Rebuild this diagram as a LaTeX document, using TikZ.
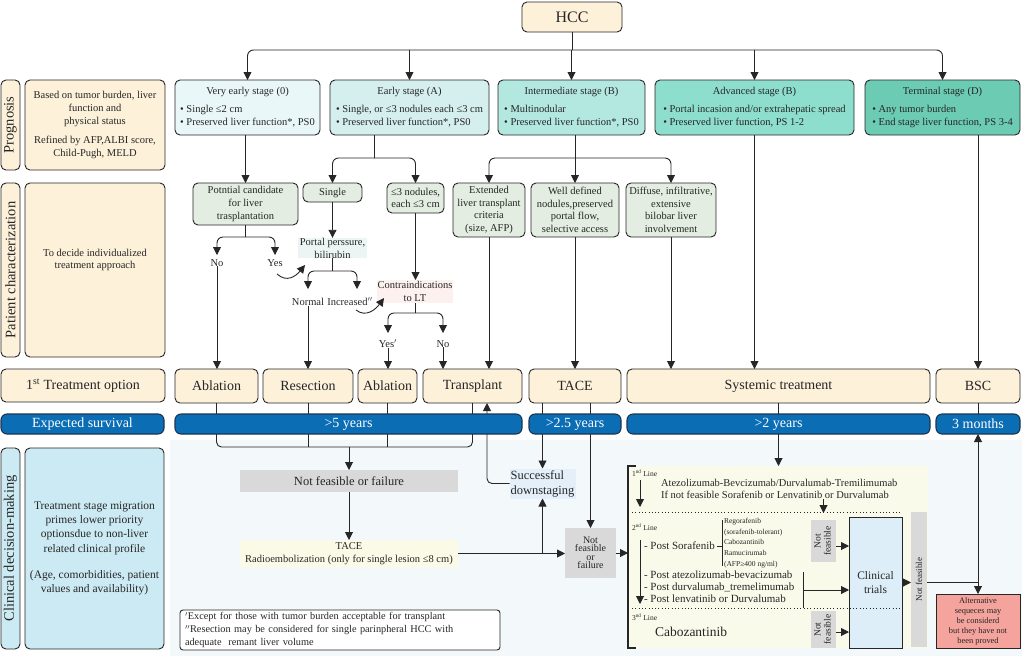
\documentclass[tikz,border=0pt]{standalone}
\usepackage{fontspec}
\setmainfont{Liberation Serif}
\usepackage{graphicx}
\usetikzlibrary{arrows.meta,calc}

\definecolor{linec}{HTML}{262626}
\definecolor{cream}{HTML}{FDF1DA}
\definecolor{cz}{HTML}{EAF7F9}
\definecolor{ca}{HTML}{D4EFEE}
\definecolor{cb}{HTML}{B3E8E0}
\definecolor{cc}{HTML}{8DDECD}
\definecolor{cd}{HTML}{6CCCB3}
\definecolor{sage}{HTML}{E3EDE1}
\definecolor{barblue}{HTML}{0B6DB4}
\definecolor{barline}{HTML}{1A3651}
\definecolor{clinblue}{HTML}{CCEAF3}
\definecolor{bgc}{HTML}{F3F8FA}
\definecolor{grayc}{HTML}{D9D9D9}
\definecolor{sysy}{HTML}{FAFAEA}
\definecolor{ctblue}{HTML}{DDEEF9}
\definecolor{altc}{HTML}{F4A39D}
\definecolor{downbg}{HTML}{E4EFFA}
\definecolor{portbg}{HTML}{ECF5F4}
\definecolor{contbg}{HTML}{FCF1EE}
\definecolor{tacebg}{HTML}{FAFAE6}

\newcommand{\fsz}[2]{\fontsize{#1}{#2}\selectfont}
\newcommand{\stg}[2]{\begin{tabular}{@{}l@{}}\multicolumn{1}{@{}c@{}}{#1}\\[5pt]#2\end{tabular}}
\newcommand{\nfeas}[1]{\rotatebox{90}{\fsz{#1}{10}\begin{tabular}{@{}c@{}}Not\\feasible\end{tabular}}}

\begin{document}
\begin{tikzpicture}[x=1pt,y=-1pt,line width=0.9pt,color=linec,
  every node/.style={inner sep=0pt,outer sep=0pt,font=\fsz{10.5}{12.6}},
  arr/.style={-{Triangle[length=8pt,width=8pt]}},
  darr/.style={{Triangle[length=8pt,width=8pt]}-{Triangle[length=8pt,width=8pt]}},
  rbox/.style={draw=linec,rounded corners=5pt,align=center},
  creambox/.style={rbox,fill=cream},
  stagebox/.style={rbox,minimum height=55},
  sbox/.style={rbox,fill=sage},
  vlabel/.style={creambox,minimum width=19},
  treat/.style={creambox,minimum height=34,font=\fsz{14}{16}},
  bar/.style={draw=barline,fill=barblue,rounded corners=6pt,minimum height=20,text=white,font=\fsz{14}{16},line width=1.1pt},
  gbox/.style={fill=grayc,align=center},
  dots/.style={dash pattern=on 1pt off 2.3pt},
  rc/.style={rounded corners=6pt}]

\useasboundingbox (0,0) rectangle (1024,662);
\fill[bgc] (170,440) rectangle (1022,656);

% ---------- top ----------
\node[creambox,minimum width=100,minimum height=30,font=\fsz{16}{18}] (hcc) at (572,17) {HCC};

\node[stagebox,fill=cz,minimum width=145] (s0) at (247.5,107.5) {\stg{Very early stage (0)}{• Single ≤2 cm\\• Preserved liver function*, PS0}};
\node[stagebox,fill=ca,minimum width=159] (sA) at (409.5,107.5) {\stg{Early stage (A)}{• Single, or ≤3 nodules each ≤3 cm\\• Preserved liver function*, PS0}};
\node[stagebox,fill=cb,minimum width=147] (sB) at (571.5,107.5) {\stg{Intermediate stage (B)}{• Multinodular\\• Preserved liver function*, PS0}};
\node[stagebox,fill=cc,minimum width=199] (sC) at (754.5,107.5) {\stg{Advanced stage (B)}{• Portal incasion and/or extrahepatic spread\\• Preserved liver function, PS 1-2}};
\node[stagebox,fill=cd,minimum width=155] (sD) at (942.5,107.5) {\stg{Terminal stage (D)}{• Any tumor burden\\• End stage liver function, PS 3-4}};

% ---------- left column ----------
\node[vlabel,minimum height=90] (progL) at (10.5,125) {\rotatebox{90}{\fsz{14.5}{16}Prognosis}};
\node[creambox,minimum width=140,minimum height=90] (progD) at (95,125) {Based on tumor burden, liver\\function and\\physical status\\[7pt]Refined by AFP,ALBI score,\\Child-Pugh, MELD};
\node[vlabel,minimum height=174] (patL) at (10.5,270) {\rotatebox{90}{\fsz{14.5}{16}Patient characterization}};
\node[creambox,minimum width=140,minimum height=174] (patD) at (95,270) {To decide individualized\\treatment approach\\[10pt]\mbox{}};
\node[creambox,minimum width=164,minimum height=33,font=\fsz{14}{16}] (treatL) at (83,385.5) {1\textsuperscript{st} Treatment option};
\node[bar,minimum width=163] (survL) at (82.5,424) {Expected survival};
\node[rbox,fill=clinblue,minimum width=19,minimum height=201] (clinL) at (10.5,548.5) {\rotatebox{90}{\fsz{14.5}{16}Clinical decision-making}};
\node[rbox,fill=clinblue,minimum width=139,minimum height=201,font=\fsz{11.5}{14.2}] (clinD) at (94.5,548.5) {Treatment stage migration\\primes lower priority\\optionsdue to non-liver\\related clinical profile\\[12pt](Age, comorbidities, patient\\values and availability)};

% ---------- patient characterization ----------
\node[sbox,minimum width=105,minimum height=42] (pc) at (245.5,204) {Potntial candidate\\for liver\\trasplantation};
\node[sbox,minimum width=59,minimum height=19] (single) at (332.5,192.5) {Single};
\node[sbox,minimum width=57,minimum height=30] (nod3) at (415.5,198) {≤3 nodules,\\each ≤3 cm};
\node[sbox,minimum width=72,minimum height=54] (ext) at (489,210) {Extended\\liver transplant\\criteria\\(size, AFP)};
\node[sbox,minimum width=88,minimum height=54] (well) at (575,210) {Well defined\\nodules,preserved\\portal flow,\\selective access};
\node[sbox,minimum width=90,minimum height=54] (diff) at (671,210) {Diffuse, infiltrative,\\extensive\\bilobar liver\\involvement};

\node (no1) at (217,263) {No};
\node (yes1) at (275,263) {Yes};
\node[fill=portbg,minimum width=69,minimum height=20,align=center,font=\fsz{10.5}{13}] (portal) at (332.5,248) {Portal perssure,\\bilirubin};
\node (normal) at (308,302) {Normal};
\node (incr) at (350,302) {Increased$^{\prime\prime}$};
\node[fill=contbg,minimum width=76,minimum height=23,align=center,font=\fsz{10.5}{13}] (contra) at (415,291.5) {Contraindications\\to LT};
\node (yes2) at (388,344) {Yes$^{\prime}$};
\node (no2) at (443,344) {No};

% ---------- treatments ----------
\node[treat,minimum width=83] (abl1) at (216.5,386) {Ablation};
\node[treat,minimum width=90] (res) at (308,386) {Resection};
\node[treat,minimum width=59] (abl2) at (387.5,386) {Ablation};
\node[treat,minimum width=99] (trans) at (472.5,386) {Transplant};
\node[treat,minimum width=92] (tace) at (575,386) {TACE};
\node[treat,minimum width=303] (syst) at (778.5,386) {Systemic treatment};
\node[treat,minimum width=84] (bsc) at (978,386) {BSC};

% ---------- clinical decision ----------
\node[gbox,minimum width=218,minimum height=22,font=\fsz{12.5}{14}] (nff) at (349,481) {Not feasible or failure};
\node[fill=tacebg,minimum width=218,minimum height=27,align=center,font=\fsz{10.5}{13}] (tacer) at (349,553.5) {TACE\\Radioembolization (only for single lesion ≤8 cm)};
\node[fill=downbg,minimum width=66,minimum height=30,align=left,font=\fsz{12.5}{15}] (downst) at (542.5,483.5) {Successful\\downstaging};
\node[gbox,minimum width=51,minimum height=50,font=\fsz{10}{8.5}] (nffs) at (590.5,553) {Not\\feasible\\or\\failure};
\node[draw=linec,fill=white,rounded corners=3pt,minimum width=320,minimum height=40,text width=310,align=left,font=\fsz{10.3}{12.7}] (foot) at (340,630) {$^{\prime}$Except for those with tumor burden acceptable for transplant\\$^{\prime\prime}$Resection may be considered for single parinpheral HCC with\\adequate\ \ remant liver volume};

% systemic block
\node[fill=sysy,minimum width=300,minimum height=182] (sysbox) at (778,557) {};
\node[anchor=west,font=\fsz{7.5}{8}] (line1) at (632,473) {1\textsuperscript{nd} Line};
\node[anchor=north west,align=left] (atz) at (661,479) {Atezolizumab-Bevcizumab/Durvalumab-Tremilimumab\\If not feasible Sorafenib or Lenvatinib or Durvalumab};
\node[anchor=west,font=\fsz{7.5}{8}] (line2) at (632,527) {2\textsuperscript{nd} Line};
\node[anchor=west,font=\fsz{11}{12}] (psor) at (644,546) {- Post Sorafenib};
\node[anchor=north west,align=left,font=\fsz{7.5}{10.8}] (list) at (724,518) {Regorafenib\\(sorafenib-tolerant)\\Cabozantinib\\Ramucirumab\\(AFP≥400 ng/ml)};
\node[anchor=north west,align=left,font=\fsz{11}{12}] (posts) at (644,571) {- Post atezolizumab-bevacizumab\\- Post durvalumab\_tremelimumab\\- Post lenvatinib or Durvalumab};
\node[anchor=west,font=\fsz{7.5}{8}] (line3) at (632,617) {3\textsuperscript{nd} Line};
\node[anchor=west,font=\fsz{13.5}{15}] (cabo) at (655,632) {Cabozantinib};
\node[gbox,minimum width=25,minimum height=42] (nf1) at (823.5,541) {\nfeas{9.5}};
\node[gbox,minimum width=25,minimum height=37] (nf2) at (823.5,629.5) {\nfeas{9.5}};
\node[draw=linec,fill=ctblue,minimum width=53,minimum height=131,align=center,font=\fsz{11.5}{14}] (ct) at (875.5,582.5) {Clinical\\trials};
\node[gbox,minimum width=16,minimum height=135] (nfT) at (919,579.5) {\rotatebox{90}{\fsz{9}{10}Not feasible}};
\node[draw=linec,fill=altc,minimum width=84,minimum height=54,align=center,font=\fsz{8.4}{10}] (alt) at (978,621) {Alternative\\sequeces may\\be considerd\\but they have not\\been proved};

% ---------- connectors running under the survival bars ----------
\coordinate (jt) at (349,447);
\draw[rounded corners=5pt] (abl1.south) |- (jt) -| (trans.south);
\draw (res.south) -- (res.south |- jt);
\draw (abl2.south) -- (abl2.south |- jt);
\coordinate (tup) at (487,403);
\draw[arr,rounded corners=5pt] (downst.west) -| (tup);
\draw[arr] (tace.south -| downst.north) -- (downst.north);
\draw[arr] (tace.south -| nffs.north) -- (nffs.north);

% ---------- survival bars ----------
\node[bar,minimum width=347] (sv5) at (348.5,424) {>5 years};
\node[bar,minimum width=92] (sv25) at (575,424) {>2.5 years};
\node[bar,minimum width=303] (sv2) at (778.5,424) {>2 years};
\node[bar,minimum width=84] (sv3) at (978,424) {3 months};

% ---------- top tree ----------
\coordinate (j0) at (572,50);
\draw (hcc.south) -- (j0);
\draw[arr,rc] (j0) -| (s0.north);
\draw[arr,rc] (j0) -| (sD.north);
\draw[arr] (sA.north |- j0) -- (sA.north);
\draw[arr] (sB.north |- j0) -- (sB.north);
\draw[arr] (sC.north |- j0) -- (sC.north);

\draw[arr] (pc.north |- s0.south) -- (pc.north);
\coordinate (jA) at (374,158);
\draw (sA.south -| jA) -- (jA);
\draw[arr,rc] (jA) -| (single.north);
\draw[arr,rc] (jA) -| (nod3.north);
\coordinate (jB) at (575,158);
\draw[arr] (well.north |- sB.south) -- (well.north);
\draw[arr,rc] (jB) -| (ext.north);
\draw[arr,rc] (jB) -| (diff.north);
\draw[arr] (sC.south) -- (sC.south |- syst.north);
\draw[arr] (bsc.north |- sD.south) -- (bsc.north);
\draw[arr] (ext.south) -- (ext.south |- trans.north);
\draw[arr] (well.south) -- (well.south |- tace.north);
\draw[arr] (diff.south) -- (diff.south |- syst.north);

% potential candidate branch
\coordinate (jpc) at (245.5,237);
\coordinate (tno1) at (217,255);
\coordinate (tyes1) at (275,255);
\draw (pc.south) -- (jpc);
\draw[arr,rc] (jpc) -| (tno1);
\draw[arr,rc] (jpc) -| (tyes1);
\draw[arr] (no1.south) -- (no1.south |- abl1.north);
\coordinate (cv1s) at (277,274);
\coordinate (cv1e) at (305,265);
\draw[arr] (cv1s) .. controls (287,283) and (296,276) .. (cv1e);

% single branch
\draw[arr] (single.south) -- (portal.north);
\coordinate (jp) at (332.5,271);
\coordinate (tnorm) at (308,289);
\coordinate (tincr) at (357,289);
\draw (portal.south) -- (jp);
\draw[arr,rc] (jp) -| (tnorm);
\draw[arr,rc] (jp) -| (tincr);
\draw[arr] (normal.south) -- (normal.south |- res.north);
\coordinate (cv2s) at (356,310);
\coordinate (cv2e) at (384,298);
\draw[arr] (cv2s) .. controls (366,318) and (376,309) .. (cv2e);

% nodules branch
\draw[arr] (nod3.south) -- (nod3.south |- contra.north);
\coordinate (jc) at (415,313);
\coordinate (tyes2) at (388,333);
\coordinate (tno2) at (443,333);
\draw (contra.south) -- (jc);
\draw[arr,rc] (jc) -| (tyes2);
\draw[arr,rc] (jc) -| (tno2);
\draw[arr] (yes2.south) -- (yes2.south |- abl2.north);
\draw[arr] (no2.south) -- (no2.south |- trans.north);

% ---------- lower connectors ----------
\draw (syst.south) -- (sv2.north);
\draw (bsc.south) -- (sv3.north);
\draw[arr] (jt) -- (nff.north);
\draw[arr] (nff.south) -- (tacer.north);
\draw[arr] (tacer.east) -- (tacer.east -| nffs.west);
\draw[arr] (tacer.east -| downst.south) -- (downst.south);
\draw[arr] (nffs.east) -- (nffs.east -| sysbox.west);
\draw[arr] (sv2.south) -- (sv2.south |- sysbox.north);
\draw[line width=1.3pt] ($(sysbox.north west)+(8,0)$) -- (sysbox.north west) -- (sysbox.south west) -- ($(sysbox.south west)+(8,0)$);

\coordinate (a1s) at (640,480);
\coordinate (a1e) at (640,507);
\draw[arr] (a1s) -- (a1e);
\coordinate (d1a) at (632,512);
\coordinate (d1b) at (900,512);
\draw[dots] (d1a) -- (d1b);
\draw[arr] (atz.south -| nf1.north) -- ($(nf1.north)+(0,-7)$);
\coordinate (a2s) at (640,540);
\coordinate (a2e) at (640,604);
\draw[arr] (a2s) -- (a2e);
\coordinate (brk) at ($(list.west)+(-2,0)$);
\draw ($(psor.east)+(2,0)$) -- (psor.east -| brk);
\draw ($(brk |- list.north)+(0,2)$) -- ($(brk |- list.south)+(0,-2)$);
\draw[arr] (nf1.east |- psor.east) -- (ct.west |- psor.east);
\coordinate (pv1) at (803,572);
\coordinate (pv2) at (803,608);
\coordinate (pvm) at (803,590);
\draw (pv1) -- (pv2);
\draw[arr] (pvm) -- (pvm -| ct.west);
\coordinate (d2a) at (632,608);
\coordinate (d2b) at (900,608);
\draw[dots] (d2a) -- (d2b);
\draw[arr] (nf2.east |- cabo.east) -- (ct.west |- cabo.east);
\draw[arr] (ct.east) -- (ct.east -| nfT.west);
\coordinate (jalt) at (978,582);
\draw (nfT.east |- jalt) -- (jalt);
\draw[darr] (sv3.south) -- (alt.north);
\end{tikzpicture}
\end{document}
